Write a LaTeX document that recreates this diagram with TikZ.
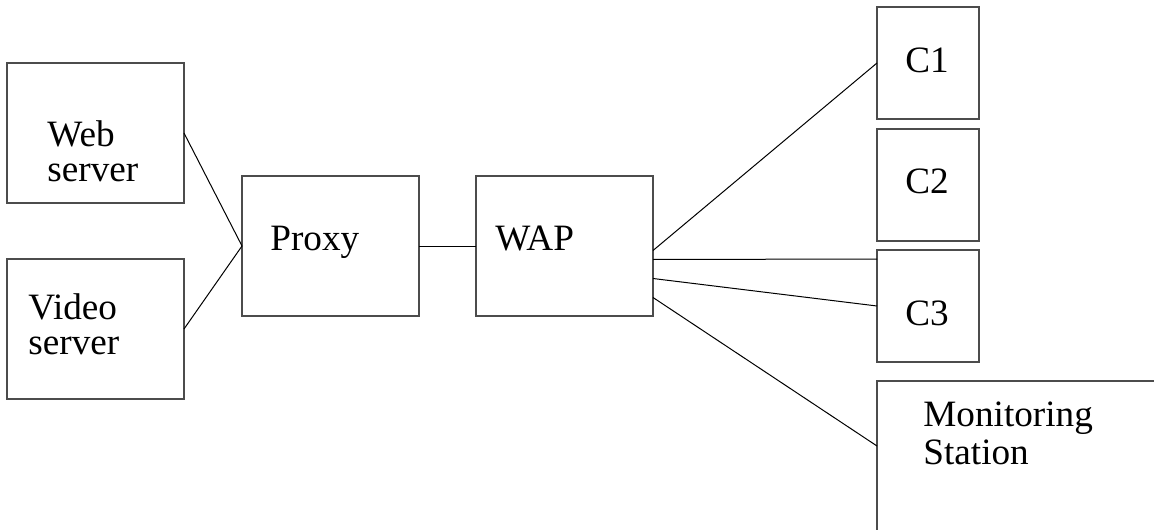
\documentclass[tikz,border=0pt]{standalone}
\usepackage{fontspec}
\setmainfont{Liberation Serif}
\usetikzlibrary{positioning, calc}
\tikzset{
  bigbox/.style={draw=black!70, line width=0.7pt, rectangle, inner sep=0pt,
    outer sep=0pt, minimum width=88.5pt, minimum height=70pt},
  cbox/.style={draw=black!70, line width=0.7pt, rectangle, inner sep=0pt,
    outer sep=0pt, minimum width=51pt, minimum height=56pt},
  lbl/.style={anchor=base west, align=left, inner sep=0pt,
    font=\fontsize{18.6}{17.5}\selectfont},
  wire/.style={draw=black, line width=0.5pt},
}

\begin{document}
\begin{tikzpicture}[x=0.5pt, y=-0.5pt]
    \useasboundingbox (0,0) rectangle (1154,529);
    \clip (0,0) rectangle (1154,529);
    % servers and middle boxes
    \node[bigbox, anchor=north west] (web) at (7,63) {};
    \node[bigbox, below=28pt of web] (video) {};
    \node[bigbox, anchor=north west] (proxy) at (242,176) {};
    \node[bigbox, right=28.5pt of proxy] (wap) {};
    % clients
    \node[cbox, anchor=north west] (c1) at (877,7) {};
    \node[cbox, below=5pt of c1] (c2) {};
    \node[cbox, below=4.5pt of c2] (c3) {};
    \node[draw=black!70, line width=0.7pt, inner sep=0pt, outer sep=0pt,
      minimum width=160pt, minimum height=100pt,
      below=9.5pt of c3.south west, anchor=north west] (mon) {};
    % labels (base west sits on the last line)
    \node[lbl] (webtxt) at (47,182) {Web\\server};
    \node[lbl] (videotxt) at (28,354) {Video\\server};
    \node[lbl] (proxytxt) at (270,250) {Proxy};
    \node[lbl] (waptxt) at (495,250) {WAP};
    \node[lbl] (c1txt) at (905,73) {C1};
    \node[lbl] (c2txt) at (905,193) {C2};
    \node[lbl] (c3txt) at (905,325) {C3};
    \node[lbl, font=\fontsize{18.6}{19}\selectfont] (montxt) at (923,464) {Monitoring\\Station};
    % links
    \draw[wire] (web.east) -- (proxy.west);
    \draw[wire] (video.east) -- (proxy.west);
    \draw[wire] (proxy) -- (wap);
    \draw[wire] ($(wap.east)+(0,4.5)$) -- (c1.west);
    \draw[wire] ($(wap.east)+(0,13.5)$) -- ($(c3.north west)+(0,9)$);
    \draw[wire] ($(wap.east)+(0,32.5)$) -- (c3.west);
    \draw[wire] ($(wap.east)+(0,51.5)$) -- ($(mon.north west)+(0,65)$);
\end{tikzpicture}
\end{document}
